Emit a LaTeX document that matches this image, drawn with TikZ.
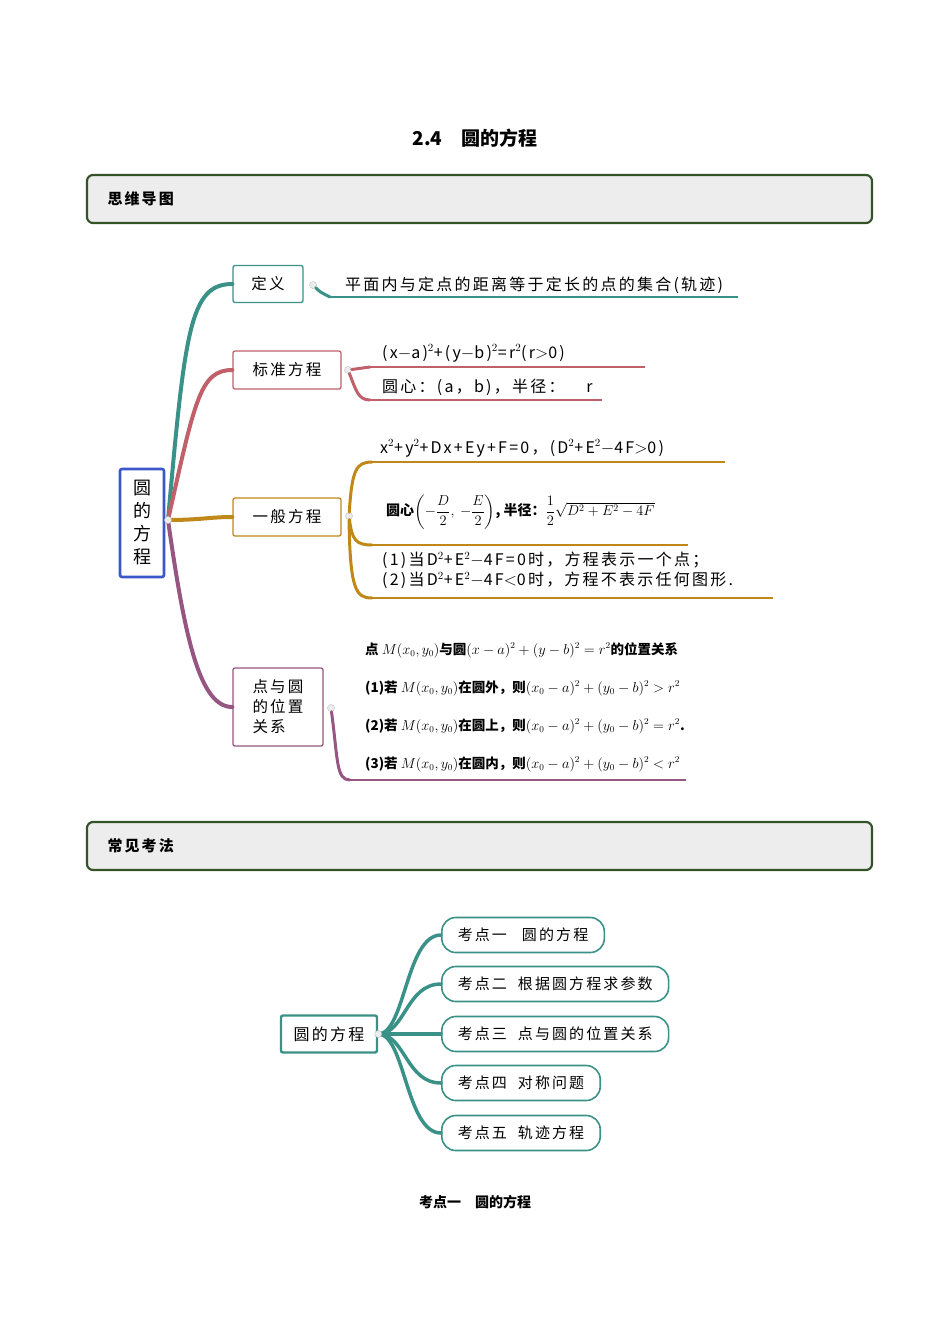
\documentclass[tikz,border=0pt]{standalone}
\usepackage{amsmath}
\usepackage{fontspec}
\usepackage{tikz}
\usetikzlibrary{calc, positioning}
\newfontfamily\cjk{Noto Sans CJK SC}
\newfontfamily\cjkw[LetterSpace=14]{Noto Sans CJK SC}
\definecolor{tealBr}{RGB}{58,145,135}
\definecolor{pinkBr}{RGB}{192,96,106}
\definecolor{goldBr}{RGB}{192,136,24}
\definecolor{purpBr}{RGB}{150,86,130}
\definecolor{rootBlue}{RGB}{60,88,200}
\definecolor{headGreen}{RGB}{52,84,40}
\definecolor{headFill}{gray}{0.93}
\tikzset{
  headbox/.style={draw=headGreen, line width=2.2pt, fill=headFill, rounded corners=6pt},
  topic/.style={draw, line width=1.3pt, fill=white, rounded corners=2pt, inner sep=5pt, font=\cjkw\fontsize{15.5}{18}\selectfont},
  pill/.style={draw=tealBr, line width=1.6pt, fill=white, rounded corners=14pt, minimum height=35pt, inner xsep=16pt, font=\cjkw\fontsize{15}{17}\selectfont},
  leaf/.style={anchor=base west, inner sep=0pt, font=\cjkw\fontsize{16}{18}\selectfont},
  rel/.style={anchor=base west, inner sep=0pt, font=\cjk\bfseries\fontsize{13.5}{16}\selectfont},
  knob/.style={circle, draw=gray!50, fill=gray!15, inner sep=2.5pt},
  branch/.style={line width=#1, line cap=round}
}
\begin{document}
\begin{tikzpicture}[x=1pt, y=-1pt]
\useasboundingbox (0,0) rectangle (950,1344);
% title and headers
\node[font=\cjk\bfseries\fontsize{19}{22}\selectfont] (title) at (475,138) {2.4\quad 圆的方程};
\draw[headbox] (87,175) rectangle (872,223);
\node[anchor=west, font=\cjkw\bfseries\fontsize{15}{18}\selectfont] (h1) at (104,199) {思维导图};
\draw[headbox] (87,822) rectangle (872,870);
\node[anchor=west, font=\cjkw\bfseries\fontsize{15}{18}\selectfont] (h2) at (104,846) {常见考法};

% main map
\node[draw=rootBlue, line width=2.6pt, fill=white, rounded corners=2pt, minimum width=44pt, minimum height=108pt, align=center, font=\cjk\fontsize{18}{23}\selectfont] (root) at (142,523) {圆\\的\\方\\程};
\node[topic, draw=tealBr, minimum width=70pt, minimum height=37pt] (def) at (268,284) {定义};
\node[topic, draw=pinkBr, minimum width=108pt, minimum height=38pt] (std) at (287,370) {标准方程};
\node[topic, draw=goldBr, minimum width=108pt, minimum height=38pt] (gen) at (287,517) {一般方程};
\node[topic, draw=purpBr, minimum width=90pt, minimum height=78pt, align=left, font=\cjkw\fontsize{15.5}{20}\selectfont] (pos) at (278,707) {点与圆\\的位置\\关系};

\coordinate (r0) at (168,520);
\draw[tealBr, branch=4pt] (r0) .. controls (185,330) and (190,284) .. (def.west);
\draw[pinkBr, branch=4pt] (r0) .. controls (195,400) and (200,370) .. (std.west);
\draw[goldBr, branch=4pt] (r0) .. controls (200,520) and (210,517) .. (gen.west);
\draw[purpBr, branch=4pt] (r0) .. controls (185,640) and (200,707) .. (pos.west);
\node[knob] (k0) at (r0) {};

% definition
\node[knob] (k1) at (313,285) {};
\coordinate (d1) at (330,297);
\coordinate (d2) at (738,297);
\draw[tealBr, branch=3pt] (k1) .. controls (320,292) .. (d1);
\draw[tealBr, line width=1.6pt] (d1) -- (d2);
\node[leaf] (t1) at (345,290) {平面内与定点的距离等于定长的点的集合(轨迹)};

% standard form
\node[knob] (k2) at (348,370) {};
\coordinate (s1) at (370,367);
\coordinate (s2) at (370,400);
\draw[pinkBr, branch=3pt] (k2) -- (s1);
\draw[pinkBr, branch=3pt] (k2) .. controls (356,390) and (358,400) .. (s2);
\draw[pinkBr, line width=1.6pt] (s1) -- (645,367);
\draw[pinkBr, line width=1.6pt] (s2) -- (602,400);
\node[leaf] (t2) at (382,358) {(x$-$a)$^2$+(y$-$b)$^2$=r$^2$(r$>$0)};
\node[leaf] (t3) at (382,392) {圆心：(a，b)，半径：\quad\ r};

% general form
\node[knob] (k3) at (349,516) {};
\coordinate (g1) at (372,462);
\coordinate (g2) at (372,545);
\coordinate (g3) at (372,598);
\draw[goldBr, branch=3pt] (k3) .. controls (352,470) and (356,462) .. (g1);
\draw[goldBr, branch=3pt] (k3) .. controls (352,540) and (356,545) .. (g2);
\draw[goldBr, branch=3pt] (k3) .. controls (350,590) and (356,598) .. (g3);
\draw[goldBr, line width=1.6pt] (g1) -- (725,462);
\draw[goldBr, line width=1.6pt] (g2) -- (688,545);
\draw[goldBr, line width=1.6pt] (g3) -- (773,598);
\node[leaf] (t4) at (380,453) {x$^2$+y$^2$+Dx+Ey+F=0，(D$^2$+E$^2-$4F$>$0)};
\node[anchor=west, inner sep=0pt, font=\cjk\bfseries\fontsize{14}{17}\selectfont] (t5) at (386,512)
  {圆心$\left(-\dfrac{D}{2},\ -\dfrac{E}{2}\right)$, 半径：$\dfrac{1}{2}\sqrt{D^2+E^2-4F}$};
\node[leaf, align=left, anchor=north west, font=\cjkw\fontsize{16}{20}\selectfont] (t6) at (382,552)
  {(1)当D$^2$+E$^2-$4F=0时，方程表示一个点；\\(2)当D$^2$+E$^2-$4F$<$0时，方程不表示任何图形.};

% point and circle
\node[knob] (k4) at (331,708) {};
\coordinate (p1) at (350,780);
\draw[purpBr, branch=3pt] (k4) .. controls (338,760) and (336,780) .. (p1);
\draw[purpBr, line width=1.6pt] (p1) -- (686,780);
\node[rel] (q0) at (365,654) {点 $M(x_0,y_0)$与圆$(x-a)^2+(y-b)^2=r^2$的位置关系};
\node[rel] (q1) at (365,692) {(1)若 $M(x_0,y_0)$在圆外，则$(x_0-a)^2+(y_0-b)^2>r^2$};
\node[rel] (q2) at (365,730) {(2)若 $M(x_0,y_0)$在圆上，则$(x_0-a)^2+(y_0-b)^2=r^2$.};
\node[rel] (q3) at (365,768) {(3)若 $M(x_0,y_0)$在圆内，则$(x_0-a)^2+(y_0-b)^2<r^2$};

% exam points map
\node[draw=tealBr, line width=2.4pt, fill=white, rounded corners=2pt, minimum width=96pt, minimum height=37pt, font=\cjkw\fontsize{16}{19}\selectfont] (kroot) at (329,1034) {圆的方程};
\node[pill, anchor=west] (e1) at (441,935) {考点一\quad 圆的方程};
\node[pill, anchor=west] (e2) at (441,984) {考点二\ \ 根据圆方程求参数};
\node[pill, anchor=west] (e3) at (441,1034) {考点三\ \ 点与圆的位置关系};
\node[pill, anchor=west] (e4) at (441,1083) {考点四\ \ 对称问题};
\node[pill, anchor=west] (e5) at (441,1133) {考点五\ \ 轨迹方程};
\foreach \e in {e1,e2,e3,e4,e5}
  \draw[tealBr, branch=3.5pt] (kroot.east) .. controls (405,1034) and ($(\e.west)+(-35,0)$) .. (\e.west);
\node[knob] (k5) at (kroot.east) {};
\node[font=\cjk\bfseries\fontsize{14}{17}\selectfont] (cap) at (475,1202) {考点一\quad 圆的方程};
\end{tikzpicture}
\end{document}
